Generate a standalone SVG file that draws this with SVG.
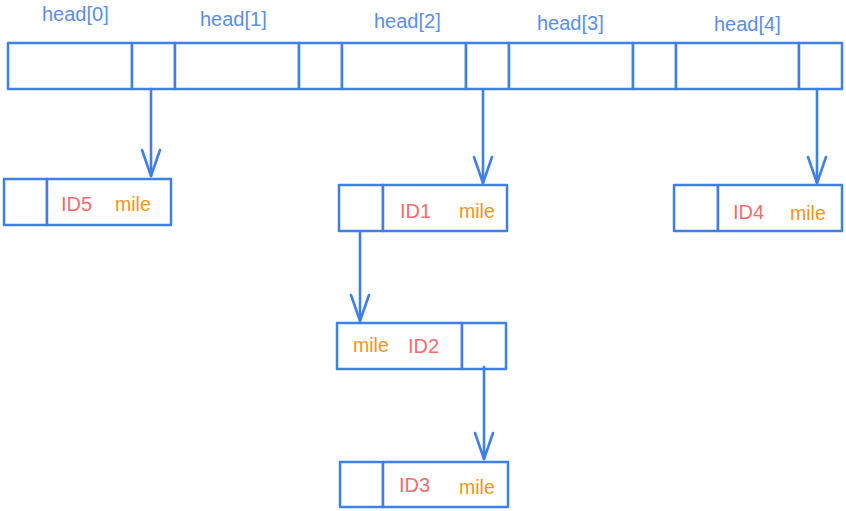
<svg xmlns="http://www.w3.org/2000/svg" width="846" height="511" viewBox="0 0 846 511">
<style>
.box{fill:#fff;stroke:#3f7fe6;stroke-width:2.5;stroke-linejoin:round}
.ln{fill:none;stroke:#3f7fe6;stroke-width:2.6;stroke-linecap:round}
.hd{font-family:"Liberation Sans",Arial,sans-serif;font-size:20px;fill:#5a8ee8}
.id{font-family:"Liberation Sans",Arial,sans-serif;font-size:20px;fill:#f26d6d}
.mi{font-family:"Liberation Sans",Arial,sans-serif;font-size:19.5px;fill:#ee961c}
</style>
<defs>
<marker id="ah" markerUnits="userSpaceOnUse" markerWidth="40" markerHeight="30" viewBox="-30 -15 40 30" refX="0" refY="0" orient="auto" overflow="visible">
<path d="M-26,-9 L0,0 L-26,9" fill="none" stroke="#3f7fe6" stroke-width="2.6" stroke-linecap="round" stroke-linejoin="round"/>
</marker>
</defs>
<g id="head0">
<rect class="box" x="8" y="43" width="124" height="46"/>
<rect class="box" x="132" y="43" width="43" height="46"/>
<text class="hd" x="42" y="21">head[0]</text>
</g>
<g id="head1">
<rect class="box" x="175" y="43" width="124" height="46"/>
<rect class="box" x="299" y="43" width="43" height="46"/>
<text class="hd" x="200" y="26">head[1]</text>
</g>
<g id="head2">
<rect class="box" x="342" y="43" width="124" height="46"/>
<rect class="box" x="466" y="43" width="43" height="46"/>
<text class="hd" x="374" y="28">head[2]</text>
</g>
<g id="head3">
<rect class="box" x="509" y="43" width="124" height="46"/>
<rect class="box" x="633" y="43" width="43" height="46"/>
<text class="hd" x="537" y="30">head[3]</text>
</g>
<g id="head4">
<rect class="box" x="676" y="43" width="123" height="46"/>
<rect class="box" x="799" y="43" width="43" height="46"/>
<text class="hd" x="714" y="31">head[4]</text>
</g>
<g id="node5">
<rect class="box" x="4" y="179" width="43" height="46"/>
<rect class="box" x="47" y="179" width="124" height="46"/>
<text class="id" x="61" y="211">ID5</text>
<text class="mi" x="115" y="211">mile</text>
</g>
<g id="node1">
<rect class="box" x="339" y="185" width="44" height="46"/>
<rect class="box" x="383" y="185" width="124" height="46"/>
<text class="id" x="400" y="218">ID1</text>
<text class="mi" x="459" y="218">mile</text>
</g>
<g id="node4">
<rect class="box" x="674" y="185" width="44" height="46"/>
<rect class="box" x="718" y="185" width="124" height="46"/>
<text class="id" x="733" y="219">ID4</text>
<text class="mi" x="790" y="220">mile</text>
</g>
<g id="node2">
<rect class="box" x="337" y="323" width="125" height="46"/>
<rect class="box" x="462" y="323" width="44" height="46"/>
<text class="mi" x="353" y="352">mile</text>
<text class="id" x="408" y="353">ID2</text>
</g>
<g id="node3">
<rect class="box" x="340" y="462" width="43" height="45"/>
<rect class="box" x="383" y="462" width="125" height="45"/>
<text class="id" x="399" y="492">ID3</text>
<text class="mi" x="459" y="494">mile</text>
</g>
<g id="connectors">
<path class="ln" d="M151,89 L151,176" marker-end="url(#ah)"/>
<path class="ln" d="M483,89 L483,183" marker-end="url(#ah)"/>
<path class="ln" d="M817,89 L817,183" marker-end="url(#ah)"/>
<path class="ln" d="M360,231 L360,321" marker-end="url(#ah)"/>
<path class="ln" d="M484,367 L484,459" marker-end="url(#ah)"/>
</g>
</svg>
